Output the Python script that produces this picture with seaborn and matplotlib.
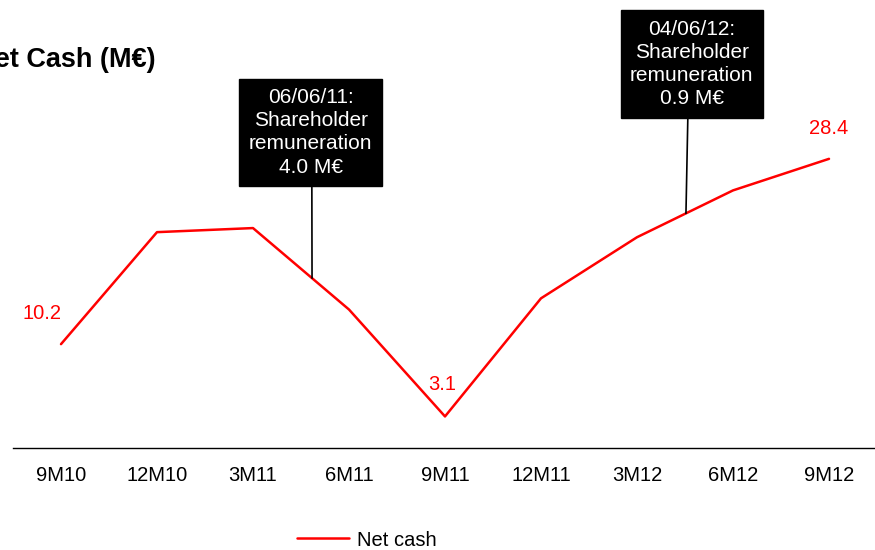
import numpy as np
import pandas as pd
import matplotlib
matplotlib.use("Agg")
import matplotlib.pyplot as plt
import seaborn as sns

periods = ["9M10", "12M10", "3M11", "6M11", "9M11", "12M11", "3M12", "6M12", "9M12"]
net_cash = [10.2, 21.2, 21.6, 13.6, 3.1, 14.7, 20.7, 25.3, 28.4]
labelled = {0: "10.2", 4: "3.1", 8: "28.4"}
events = [
    ("06/06/11:\nShareholder\nremuneration\n4.0 M€", 2.615),
    ("04/06/12:\nShareholder\nremuneration\n0.9 M€", 6.51),
]

sns.set_style("white")
plt.rcParams["font.family"] = ["Liberation Sans", "DejaVu Sans"]

W, H = 875, 550
fig = plt.figure(figsize=(W / 100, H / 100), dpi=100)
ax = fig.add_axes([13 / W, 1 - 448 / H, 864 / W, 448 / H])

df = pd.DataFrame({"period": periods, "value": net_cash})
sns.lineplot(data=df, x="period", y="value", color="#ff0000", lw=1.8,
             ax=ax, label="Net cash", legend=False, sort=False)

ax.set_xlim(-0.5, len(periods) - 0.5)
ax.set_ylim(0, 44)
ax.set_xlabel("")
ax.set_ylabel("")
ax.set_yticks([])
for s in ["left", "top", "right"]:
    ax.spines[s].set_visible(False)
ax.spines["bottom"].set_color("black")
ax.spines["bottom"].set_linewidth(1.0)

ax.set_xticks(range(len(periods)))
ax.set_xticklabels(periods, fontsize=14.5, color="black")
ax.set_xticks(np.arange(len(periods)) - 0.5, minor=True)
ax.tick_params(axis="x", which="major", length=0, pad=13)
ax.tick_params(axis="x", which="minor", length=5, width=1, color="#999999")

# value labels
offsets = {0: (-14, 22), 4: (-2, 23), 8: (0, 22)}
for i, txt in labelled.items():
    ax.annotate(txt, (i, net_cash[i]), xytext=offsets[i], textcoords="offset points",
                ha="center", va="center", color="#ff0000", fontsize=14.5)

# event call-outs
idx = np.arange(len(periods))
box_pos = [(2.6, 31.0, 0.51), (6.57, 37.7, 0.47)]
for (text, xe), (bx, by, rp) in zip(events, box_pos):
    ye = np.interp(xe, idx, net_cash)
    ax.annotate(text, xy=(xe, ye), xytext=(bx, by), textcoords="data",
                ha="center", va="center", color="white", fontsize=15,
                linespacing=1.28,
                bbox=dict(boxstyle="square,pad=0.45", fc="black", ec="black"),
                arrowprops=dict(arrowstyle="-", color="black", lw=1.2,
                                relpos=(rp, 0), shrinkA=0, shrinkB=0))

fig.text(156 / W, 1 - 60 / H, "Net Cash (M€)", ha="right", va="center",
         fontsize=19.5, fontweight="bold", color="black")

handles, labels = ax.get_legend_handles_labels()
leg = fig.legend(handles, labels, loc="center", bbox_to_anchor=(367 / W, 1 - 540 / H),
                 frameon=False, fontsize=14.5, handlelength=2.6, handletextpad=0.4)
for t in leg.get_texts():
    t.set_color("black")

fig.savefig("out.png", dpi=100)
